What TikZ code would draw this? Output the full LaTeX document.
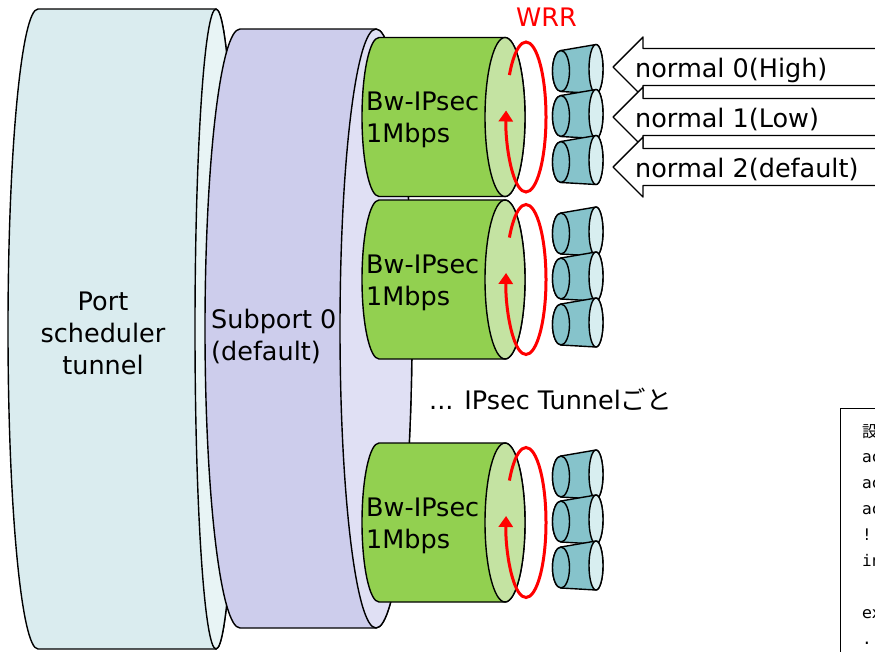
\documentclass[tikz,border=0pt]{standalone}
\usepackage{fontspec}
\setmainfont{DejaVu Sans}
\newfontfamily\jpfont{Noto Sans CJK JP}
\newfontfamily\monofnt{DejaVu Sans Mono}
\usetikzlibrary{arrows.meta}
\definecolor{portbody}{HTML}{DAECEF}
\definecolor{portface}{HTML}{E8F4F5}
\definecolor{subbody}{HTML}{CDCDEC}
\definecolor{subface}{HTML}{E0E0F4}
\definecolor{grnbody}{HTML}{92D050}
\definecolor{grnface}{HTML}{C4E3A2}
\definecolor{tealbody}{HTML}{86C3CB}
\definecolor{tealface}{HTML}{D8EEF0}
\newcommand\cylbody[7]{% cxL cxR cy rxL rxR ry color
  \filldraw[cylline, fill=#7] (#1,#3-#6) arc[start angle=-90, end angle=-270, x radius=#4, y radius=#6]
    -- (#2,#3+#6) arc[start angle=90, end angle=-90, x radius=#5, y radius=#6] -- cycle;}
\newcommand\cylface[5]{% cx cy rx ry color
  \filldraw[cylline, fill=#5] (#1,#2) ellipse[x radius=#3, y radius=#4];}
\newcommand\qcone[1]{%
  \filldraw[cylline, fill=tealbody] (561,#1-20.5) -- (596,#1-26.5)
    arc[start angle=-90, end angle=90, x radius=7, y radius=24.5]
    -- (561,#1+20.5) arc[start angle=90, end angle=270, x radius=8.5, y radius=20.5] -- cycle;
  \filldraw[cylline, fill=tealbody] (561,#1) ellipse[x radius=8.5, y radius=20.5];
  \filldraw[cylline, fill=tealface] (596,#1-2) ellipse[x radius=7, y radius=24.5];}
\newcommand\tunnelcyl[2]{% cy, name
  \cylbody{379}{505}{#1}{17}{20}{79.5}{grnbody}
  \node[lbl, anchor=west, align=left] (#2) at (366,#1+3) {Bw-IPsec\\1Mbps};
  \cylface{505}{#1}{20}{79.5}{grnface}
  \qcone{#1-46}\qcone{#1-1}\qcone{#1+45}
  \draw[wrr, -{Triangle[length=11pt, width=14pt]}] (526,#1) ++(214:20 and 75)
    arc[start angle=214, end angle=545, x radius=20, y radius=75];}
\newcommand\inarrow[3]{% cy, name, text
  \filldraw[cylline, fill=white] (613,#1) -- (643,#1-30) -- (643,#1-18.5) -- (900,#1-18.5)
    -- (900,#1+18.5) -- (643,#1+18.5) -- (643,#1+30) -- cycle;
  \node[lbl, anchor=base west] (#2) at (635,#1+10) {#3};}
\begin{document}
\begin{tikzpicture}[x=1pt, y=-1pt,
  cylline/.style={draw=black, line width=1.4pt, line join=round},
  wrr/.style={draw=red, line width=3pt},
  lbl/.style={inner sep=0pt, font=\fontsize{25.5}{32}\selectfont},
  small/.style={inner sep=0pt, anchor=base west, font=\fontsize{16}{20}\selectfont}]
\useasboundingbox (0,0) rectangle (875,651);
\clip (0,0) rectangle (875,651);
% port cylinder
\cylbody{38}{216}{329}{30}{21}{320}{portbody}
\node[lbl, align=center] (port) at (103,333) {Port\\scheduler\\tunnel};
\cylface{216}{329}{21}{320}{portface}
% subport cylinder
\cylbody{240}{376}{328.5}{35}{36}{299.5}{subbody}
\node[lbl, anchor=west, align=left] (subport) at (211,336) {Subport 0\\(default)};
\cylface{376}{328.5}{36}{299.5}{subface}
% tunnel cylinders
\tunnelcyl{117}{bw1}
\tunnelcyl{279.5}{bw2}
\tunnelcyl{522.5}{bw3}
% labels
\node[lbl, text=red, anchor=base] (wrr) at (546.5,26) {WRR};
\node[lbl, anchor=base west] (per) at (429,409) {... IPsec Tunnel{\jpfont ごと}};
% input arrows
\inarrow{67}{n0}{normal 0(High)}
\inarrow{117}{n1}{normal 1(Low)}
\inarrow{167}{n2}{normal 2(default)}
% config box
\filldraw[draw=black, line width=0.8pt, fill=white] (840,408) rectangle (900,700);
\node[small] (c1) at (862,437) {\jpfont 設};
\node[small] (c2) at (862,462) {ac};
\node[small] (c3) at (862,488) {ac};
\node[small] (c4) at (862,514) {ac};
\node[small] (c5) at (862,540) {\monofnt !};
\node[small] (c6) at (862,566) {\monofnt in};
\node[small] (c7) at (862,618) {ex};
\node[small] (c8) at (862,644) {\monofnt ..};
\end{tikzpicture}
\end{document}
